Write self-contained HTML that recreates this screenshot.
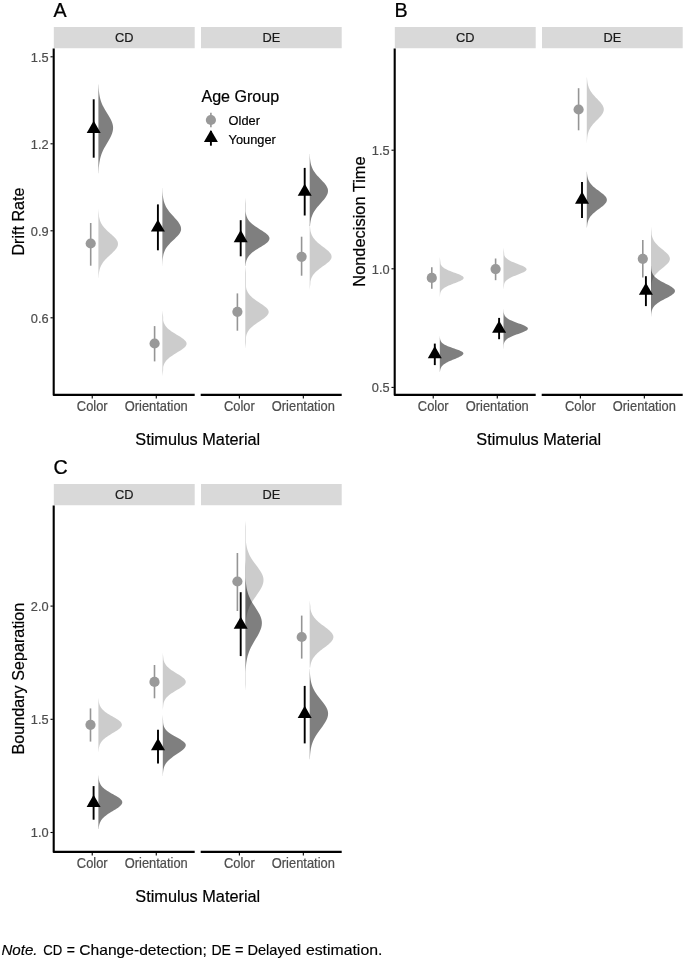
<!DOCTYPE html>
<html lang="en">
<head>
<meta charset="utf-8">
<title>Figure</title>
<style>
html,body{margin:0;padding:0;background:#fff;}
body{width:685px;height:959px;overflow:hidden;font-family:"Liberation Sans", Arial, sans-serif;}
svg{display:block;}
</style>
</head>
<body>
<svg width="685" height="959" viewBox="0 0 685 959" font-family='"Liberation Sans", Arial, sans-serif'>
<rect width="685" height="959" fill="#fff"/>
<g>
<text transform="translate(53.60 17.30) scale(1 0.985)" font-size="19.7" fill="#000" stroke="#000" stroke-width="0.25">A</text>
<rect x="53.80" y="27.00" width="140.90" height="21.25" fill="#d9d9d9"/>
<text transform="translate(124.25 42.40) scale(1 1.070)" font-size="12.8" fill="#1a1a1a" stroke="#1a1a1a" stroke-width="0.20" text-anchor="middle">CD</text>
<rect x="201.00" y="27.00" width="140.70" height="21.25" fill="#d9d9d9"/>
<text transform="translate(271.35 42.40) scale(1 1.070)" font-size="12.8" fill="#1a1a1a" stroke="#1a1a1a" stroke-width="0.20" text-anchor="middle">DE</text>
<path d="M53.70 48.55 V394.90 H194.70" fill="none" stroke="#000" stroke-width="2.10" stroke-linejoin="round"/>
<line x1="200.70" y1="394.90" x2="341.70" y2="394.90" stroke="#000" stroke-width="2.10"/>
<line x1="50.50" y1="56.80" x2="52.80" y2="56.80" stroke="#000" stroke-width="1.1"/>
<text transform="translate(48.60 61.70) scale(1 1.070)" font-size="12.8" fill="#4d4d4d" stroke="#4d4d4d" stroke-width="0.20" text-anchor="end">1.5</text>
<line x1="50.50" y1="143.80" x2="52.80" y2="143.80" stroke="#000" stroke-width="1.1"/>
<text transform="translate(48.60 148.70) scale(1 1.070)" font-size="12.8" fill="#4d4d4d" stroke="#4d4d4d" stroke-width="0.20" text-anchor="end">1.2</text>
<line x1="50.50" y1="230.80" x2="52.80" y2="230.80" stroke="#000" stroke-width="1.1"/>
<text transform="translate(48.60 235.70) scale(1 1.070)" font-size="12.8" fill="#4d4d4d" stroke="#4d4d4d" stroke-width="0.20" text-anchor="end">0.9</text>
<line x1="50.50" y1="317.80" x2="52.80" y2="317.80" stroke="#000" stroke-width="1.1"/>
<text transform="translate(48.60 322.70) scale(1 1.070)" font-size="12.8" fill="#4d4d4d" stroke="#4d4d4d" stroke-width="0.20" text-anchor="end">0.6</text>
<line x1="92.23" y1="395.90" x2="92.23" y2="398.50" stroke="#000" stroke-width="1.1"/>
<text transform="translate(92.23 410.70) scale(1 1.070)" font-size="12.9" fill="#4d4d4d" stroke="#4d4d4d" stroke-width="0.20" text-anchor="middle">Color</text>
<line x1="156.27" y1="395.90" x2="156.27" y2="398.50" stroke="#000" stroke-width="1.1"/>
<text transform="translate(156.27 410.70) scale(1 1.070)" font-size="12.9" fill="#4d4d4d" stroke="#4d4d4d" stroke-width="0.20" text-anchor="middle">Orientation</text>
<line x1="239.37" y1="395.90" x2="239.37" y2="398.50" stroke="#000" stroke-width="1.1"/>
<text transform="translate(239.37 410.70) scale(1 1.070)" font-size="12.9" fill="#4d4d4d" stroke="#4d4d4d" stroke-width="0.20" text-anchor="middle">Color</text>
<line x1="303.33" y1="395.90" x2="303.33" y2="398.50" stroke="#000" stroke-width="1.1"/>
<text transform="translate(303.33 410.70) scale(1 1.070)" font-size="12.9" fill="#4d4d4d" stroke="#4d4d4d" stroke-width="0.20" text-anchor="middle">Orientation</text>
<text transform="translate(197.75 445.10) scale(1 1.040)" font-size="16.3" fill="#000" stroke="#000" stroke-width="0.20" text-anchor="middle">Stimulus Material</text>
<text transform="translate(24.40 221.57) rotate(-90) scale(1 1.040)" font-size="16.1" fill="#000" stroke="#000" stroke-width="0.20" text-anchor="middle">Drift Rate</text>
<path d="M98.40 209.50 L98.49 209.50 L98.52 210.64 L98.62 211.78 L98.73 212.91 L98.85 214.05 L98.96 215.19 L99.00 216.33 L99.20 217.47 L99.45 218.61 L99.76 219.75 L100.13 220.88 L100.59 222.02 L101.13 223.16 L101.77 224.30 L102.52 225.44 L103.36 226.57 L104.31 227.71 L105.35 228.85 L106.48 229.99 L107.69 231.13 L108.95 232.27 L110.24 233.41 L111.53 234.54 L112.79 235.68 L113.98 236.82 L115.07 237.96 L116.04 239.10 L116.83 240.24 L117.44 241.37 L117.83 242.51 L117.99 243.65 L117.94 244.79 L117.66 245.93 L117.19 247.06 L116.53 248.20 L115.70 249.34 L114.74 250.48 L113.65 251.62 L112.49 252.76 L111.27 253.90 L110.03 255.03 L108.80 256.17 L107.60 257.31 L106.44 258.45 L105.36 259.59 L104.35 260.73 L103.44 261.86 L102.62 263.00 L101.90 264.14 L101.26 265.28 L100.72 266.42 L100.26 267.56 L99.87 268.69 L99.56 269.83 L99.30 270.97 L99.09 272.11 L98.92 273.25 L98.79 274.38 L98.69 275.52 L98.61 276.66 L98.56 277.80 L98.40 277.80 Z" fill="rgba(153,153,153,0.5)"/>
<path d="M162.40 310.70 L162.42 310.70 L162.53 311.79 L162.66 312.88 L162.80 313.97 L162.93 315.06 L163.06 316.15 L163.13 317.24 L163.13 318.33 L163.13 319.42 L163.15 320.51 L163.43 321.60 L163.80 322.69 L164.27 323.78 L164.85 324.87 L165.57 325.96 L166.44 327.05 L167.47 328.14 L168.66 329.23 L170.02 330.32 L171.53 331.41 L173.17 332.50 L174.91 333.59 L176.71 334.68 L178.52 335.77 L180.29 336.86 L181.95 337.95 L183.43 339.04 L184.69 340.13 L185.66 341.22 L186.30 342.31 L186.59 343.40 L186.50 344.49 L186.06 345.58 L185.27 346.67 L184.18 347.76 L182.83 348.85 L181.27 349.94 L179.57 351.03 L177.79 352.12 L175.99 353.21 L174.21 354.30 L172.51 355.39 L170.93 356.48 L169.49 357.57 L168.20 358.66 L167.07 359.75 L166.11 360.84 L165.30 361.93 L164.63 363.02 L164.09 364.11 L163.67 365.20 L163.33 366.29 L163.13 367.38 L163.13 368.47 L163.13 369.56 L163.06 370.65 L162.93 371.74 L162.80 372.83 L162.66 373.92 L162.53 375.01 L162.43 376.10 L162.40 376.10 Z" fill="rgba(153,153,153,0.5)"/>
<path d="M245.30 266.50 L245.30 266.50 L245.46 267.87 L245.62 269.23 L245.78 270.60 L245.94 271.97 L246.00 273.33 L246.00 274.70 L246.00 276.07 L246.00 277.43 L246.00 278.80 L246.00 280.17 L246.00 281.53 L246.00 282.90 L246.00 284.27 L246.00 285.63 L246.00 287.00 L246.23 288.37 L246.63 289.73 L247.17 291.10 L247.88 292.47 L248.77 293.83 L249.88 295.20 L251.20 296.57 L252.75 297.93 L254.51 299.30 L256.44 300.67 L258.48 302.03 L260.56 303.40 L262.59 304.77 L264.48 306.13 L266.11 307.50 L267.41 308.87 L268.28 310.23 L268.68 311.60 L268.58 312.97 L267.98 314.33 L266.94 315.70 L265.50 317.07 L263.77 318.43 L261.82 319.80 L259.77 321.17 L257.71 322.53 L255.71 323.90 L253.85 325.27 L252.18 326.63 L250.71 328.00 L249.47 329.37 L248.44 330.73 L247.62 332.10 L246.98 333.47 L246.49 334.83 L246.12 336.20 L246.00 337.57 L246.00 338.93 L246.00 340.30 L246.00 341.67 L245.94 343.03 L245.78 344.40 L245.62 345.77 L245.46 347.13 L245.31 348.50 L245.30 348.50 Z" fill="rgba(153,153,153,0.5)"/>
<path d="M309.70 224.10 L309.81 224.10 L309.86 225.19 L309.94 226.28 L310.06 227.37 L310.18 228.46 L310.30 229.55 L310.44 230.64 L310.68 231.73 L310.97 232.82 L311.34 233.91 L311.78 235.00 L312.32 236.09 L312.96 237.18 L313.70 238.27 L314.56 239.36 L315.53 240.45 L316.62 241.54 L317.81 242.63 L319.09 243.72 L320.45 244.81 L321.86 245.90 L323.30 246.99 L324.73 248.08 L326.12 249.17 L327.42 250.26 L328.61 251.35 L329.63 252.44 L330.47 253.53 L331.09 254.62 L331.47 255.71 L331.60 256.80 L331.45 257.89 L331.02 258.98 L330.33 260.07 L329.39 261.16 L328.24 262.25 L326.94 263.34 L325.51 264.43 L324.01 265.52 L322.48 266.61 L320.96 267.70 L319.49 268.79 L318.10 269.88 L316.82 270.97 L315.65 272.06 L314.60 273.15 L313.69 274.24 L312.90 275.33 L312.24 276.42 L311.68 277.51 L311.23 278.60 L310.87 279.69 L310.58 280.78 L310.36 281.87 L310.36 282.96 L310.30 284.05 L310.18 285.14 L310.06 286.23 L309.94 287.32 L309.82 288.41 L309.76 289.50 L309.70 289.50 Z" fill="rgba(153,153,153,0.5)"/>
<path d="M98.40 84.40 L98.54 84.40 L98.59 85.88 L98.66 87.36 L98.75 88.85 L98.86 90.33 L99.01 91.81 L99.18 93.29 L99.40 94.77 L99.67 96.25 L99.99 97.74 L100.37 99.22 L100.81 100.70 L101.32 102.18 L101.90 103.66 L102.55 105.14 L103.27 106.62 L104.06 108.11 L104.90 109.59 L105.78 111.07 L106.69 112.55 L107.62 114.03 L108.54 115.52 L109.43 117.00 L110.27 118.48 L111.04 119.96 L111.71 121.44 L112.26 122.92 L112.69 124.41 L112.97 125.89 L113.09 127.37 L113.06 128.85 L112.89 130.33 L112.58 131.81 L112.14 133.30 L111.58 134.78 L110.93 136.26 L110.18 137.74 L109.38 139.22 L108.53 140.70 L107.65 142.19 L106.77 143.67 L105.90 145.15 L105.05 146.63 L104.24 148.11 L103.48 149.59 L102.78 151.08 L102.13 152.56 L101.55 154.04 L101.03 155.52 L100.58 157.00 L100.19 158.48 L99.85 159.97 L99.57 161.45 L99.33 162.93 L99.13 164.41 L98.97 165.89 L98.84 167.37 L98.74 168.86 L98.66 170.34 L98.59 171.82 L98.54 173.30 L98.40 173.30 Z" fill="rgba(0,0,0,0.5)"/>
<path d="M162.40 187.80 L162.47 187.80 L162.50 189.11 L162.54 190.42 L162.59 191.73 L162.66 193.04 L162.76 194.35 L162.88 195.66 L163.03 196.97 L163.23 198.28 L163.48 199.59 L163.78 200.90 L164.15 202.21 L164.59 203.52 L165.11 204.83 L165.72 206.14 L166.42 207.45 L167.22 208.76 L168.11 210.07 L169.08 211.38 L170.13 212.69 L171.26 214.00 L172.43 215.31 L173.62 216.62 L174.82 217.93 L176.00 219.24 L177.12 220.55 L178.15 221.86 L179.06 223.17 L179.84 224.48 L180.44 225.79 L180.86 227.10 L181.07 228.41 L181.07 229.72 L180.79 231.03 L180.25 232.34 L179.45 233.65 L178.45 234.96 L177.28 236.27 L175.98 237.58 L174.61 238.89 L173.21 240.20 L171.82 241.51 L170.49 242.82 L169.24 244.13 L168.10 245.44 L167.08 246.75 L166.18 248.06 L165.40 249.37 L164.75 250.68 L164.22 251.99 L163.78 253.30 L163.43 254.61 L163.16 255.92 L162.95 257.23 L162.80 258.54 L162.68 259.85 L162.60 261.16 L162.55 262.47 L162.50 263.78 L162.46 265.09 L162.44 266.40 L162.40 266.40 Z" fill="rgba(0,0,0,0.5)"/>
<path d="M245.30 197.80 L245.30 197.80 L245.36 198.94 L245.41 200.07 L245.47 201.21 L245.52 202.35 L245.58 203.48 L245.59 204.62 L245.59 205.76 L245.59 206.89 L245.59 208.03 L245.59 209.17 L245.59 210.30 L245.61 211.44 L245.74 212.58 L245.92 213.71 L246.16 214.85 L246.47 215.99 L246.88 217.12 L247.40 218.26 L248.04 219.40 L248.82 220.53 L249.76 221.67 L250.86 222.81 L252.13 223.94 L253.55 225.08 L255.13 226.22 L256.82 227.35 L258.60 228.49 L260.42 229.63 L262.23 230.76 L263.96 231.90 L265.55 233.04 L266.94 234.17 L268.07 235.31 L268.90 236.45 L269.38 237.58 L269.49 238.72 L269.22 239.86 L268.57 240.99 L267.57 242.13 L266.27 243.27 L264.72 244.40 L263.00 245.54 L261.17 246.68 L259.30 247.81 L257.45 248.95 L255.67 250.09 L254.01 251.22 L252.50 252.36 L251.15 253.50 L249.98 254.63 L248.98 255.77 L248.15 256.91 L247.47 258.04 L246.93 259.18 L246.50 260.32 L246.17 261.45 L245.92 262.59 L245.74 263.73 L245.60 264.86 L245.50 266.00 L245.30 266.00 Z" fill="rgba(0,0,0,0.5)"/>
<path d="M309.70 154.10 L309.81 154.10 L309.85 155.30 L309.91 156.50 L309.98 157.69 L310.08 158.89 L310.20 160.09 L310.36 161.29 L310.56 162.49 L310.81 163.69 L311.11 164.88 L311.48 166.08 L311.92 167.28 L312.44 168.48 L313.04 169.68 L313.73 170.88 L314.51 172.07 L315.37 173.27 L316.32 174.47 L317.34 175.67 L318.43 176.87 L319.56 178.07 L320.72 179.26 L321.88 180.46 L323.01 181.66 L324.09 182.86 L325.09 184.06 L325.98 185.26 L326.73 186.45 L327.32 187.65 L327.74 188.85 L327.96 190.05 L327.99 191.25 L327.84 192.45 L327.52 193.64 L327.05 194.84 L326.42 196.04 L325.67 197.24 L324.81 198.44 L323.87 199.64 L322.85 200.84 L321.80 202.03 L320.73 203.23 L319.65 204.43 L318.60 205.63 L317.58 206.83 L316.62 208.03 L315.71 209.22 L314.88 210.42 L314.12 211.62 L313.43 212.82 L312.83 214.02 L312.29 215.22 L311.83 216.41 L311.43 217.61 L311.10 218.81 L310.82 220.01 L310.58 221.21 L310.39 222.41 L310.24 223.60 L310.11 224.80 L310.02 226.00 L309.70 226.00 Z" fill="rgba(0,0,0,0.5)"/>
<line x1="90.70" y1="223.00" x2="90.70" y2="265.70" stroke="#959595" stroke-width="1.6"/>
<circle cx="90.70" cy="243.50" r="5.10" fill="#999"/>
<line x1="154.60" y1="326.10" x2="154.60" y2="361.40" stroke="#959595" stroke-width="1.6"/>
<circle cx="154.60" cy="343.50" r="5.10" fill="#999"/>
<line x1="237.40" y1="293.40" x2="237.40" y2="330.70" stroke="#959595" stroke-width="1.6"/>
<circle cx="237.40" cy="311.80" r="5.10" fill="#999"/>
<line x1="301.60" y1="236.70" x2="301.60" y2="275.70" stroke="#959595" stroke-width="1.6"/>
<circle cx="301.60" cy="256.80" r="5.10" fill="#999"/>
<line x1="93.70" y1="99.30" x2="93.70" y2="157.70" stroke="#000" stroke-width="1.9"/>
<polygon points="93.70,120.75 100.70,132.90 86.70,132.90" fill="#000"/>
<line x1="157.90" y1="204.40" x2="157.90" y2="250.30" stroke="#000" stroke-width="1.9"/>
<polygon points="157.90,219.45 164.90,231.60 150.90,231.60" fill="#000"/>
<line x1="240.70" y1="220.20" x2="240.70" y2="256.30" stroke="#000" stroke-width="1.9"/>
<polygon points="240.70,230.05 247.70,242.20 233.70,242.20" fill="#000"/>
<line x1="304.70" y1="167.90" x2="304.70" y2="215.50" stroke="#000" stroke-width="1.9"/>
<polygon points="304.70,183.65 311.70,195.80 297.70,195.80" fill="#000"/>
<text transform="translate(201.40 101.60) scale(1 1.040)" font-size="16.1" fill="#000" stroke="#000" stroke-width="0.20">Age Group</text>
<line x1="210.9" y1="112.7" x2="210.9" y2="127.2" stroke="#959595" stroke-width="1.6"/>
<circle cx="210.9" cy="120" r="5.1" fill="#999"/>
<text transform="translate(228.60 124.70) scale(1 1.070)" font-size="12.8" fill="#000" stroke="#000" stroke-width="0.20">Older</text>
<line x1="210.9" y1="131" x2="210.9" y2="145.7" stroke="#000" stroke-width="1.9"/>
<polygon points="210.9,130.0 217.9,142.1 203.9,142.1" fill="#000"/>
<text transform="translate(228.60 143.50) scale(1 1.070)" font-size="12.8" fill="#000" stroke="#000" stroke-width="0.20">Younger</text>
</g>
<g>
<text transform="translate(394.60 17.30) scale(1 0.985)" font-size="19.7" fill="#000" stroke="#000" stroke-width="0.25">B</text>
<rect x="394.80" y="27.00" width="140.90" height="21.25" fill="#d9d9d9"/>
<text transform="translate(465.25 42.40) scale(1 1.070)" font-size="12.8" fill="#1a1a1a" stroke="#1a1a1a" stroke-width="0.20" text-anchor="middle">CD</text>
<rect x="542.00" y="27.00" width="140.70" height="21.25" fill="#d9d9d9"/>
<text transform="translate(612.35 42.40) scale(1 1.070)" font-size="12.8" fill="#1a1a1a" stroke="#1a1a1a" stroke-width="0.20" text-anchor="middle">DE</text>
<path d="M394.70 48.55 V394.90 H535.70" fill="none" stroke="#000" stroke-width="2.10" stroke-linejoin="round"/>
<line x1="541.70" y1="394.90" x2="682.70" y2="394.90" stroke="#000" stroke-width="2.10"/>
<line x1="391.50" y1="150.20" x2="393.80" y2="150.20" stroke="#000" stroke-width="1.1"/>
<text transform="translate(389.60 155.10) scale(1 1.070)" font-size="12.8" fill="#4d4d4d" stroke="#4d4d4d" stroke-width="0.20" text-anchor="end">1.5</text>
<line x1="391.50" y1="268.80" x2="393.80" y2="268.80" stroke="#000" stroke-width="1.1"/>
<text transform="translate(389.60 273.70) scale(1 1.070)" font-size="12.8" fill="#4d4d4d" stroke="#4d4d4d" stroke-width="0.20" text-anchor="end">1.0</text>
<line x1="391.50" y1="387.40" x2="393.80" y2="387.40" stroke="#000" stroke-width="1.1"/>
<text transform="translate(389.60 392.30) scale(1 1.070)" font-size="12.8" fill="#4d4d4d" stroke="#4d4d4d" stroke-width="0.20" text-anchor="end">0.5</text>
<line x1="433.23" y1="395.90" x2="433.23" y2="398.50" stroke="#000" stroke-width="1.1"/>
<text transform="translate(433.23 410.70) scale(1 1.070)" font-size="12.9" fill="#4d4d4d" stroke="#4d4d4d" stroke-width="0.20" text-anchor="middle">Color</text>
<line x1="497.27" y1="395.90" x2="497.27" y2="398.50" stroke="#000" stroke-width="1.1"/>
<text transform="translate(497.27 410.70) scale(1 1.070)" font-size="12.9" fill="#4d4d4d" stroke="#4d4d4d" stroke-width="0.20" text-anchor="middle">Orientation</text>
<line x1="580.37" y1="395.90" x2="580.37" y2="398.50" stroke="#000" stroke-width="1.1"/>
<text transform="translate(580.37 410.70) scale(1 1.070)" font-size="12.9" fill="#4d4d4d" stroke="#4d4d4d" stroke-width="0.20" text-anchor="middle">Color</text>
<line x1="644.33" y1="395.90" x2="644.33" y2="398.50" stroke="#000" stroke-width="1.1"/>
<text transform="translate(644.33 410.70) scale(1 1.070)" font-size="12.9" fill="#4d4d4d" stroke="#4d4d4d" stroke-width="0.20" text-anchor="middle">Orientation</text>
<text transform="translate(538.75 445.10) scale(1 1.040)" font-size="16.3" fill="#000" stroke="#000" stroke-width="0.20" text-anchor="middle">Stimulus Material</text>
<text transform="translate(365.40 221.57) rotate(-90) scale(1 1.040)" font-size="16.4" fill="#000" stroke="#000" stroke-width="0.20" text-anchor="middle">Nondecision Time</text>
<path d="M439.80 257.20 L439.81 257.20 L439.88 257.86 L439.96 258.52 L440.04 259.18 L440.12 259.84 L440.19 260.50 L440.27 261.16 L440.35 261.82 L440.43 262.48 L440.51 263.14 L440.52 263.80 L440.76 264.46 L441.11 265.12 L441.55 265.78 L442.11 266.44 L442.80 267.10 L443.63 267.76 L444.63 268.42 L445.78 269.08 L447.11 269.74 L448.58 270.40 L450.19 271.06 L451.91 271.72 L453.69 272.38 L455.50 273.04 L457.26 273.70 L458.92 274.36 L460.42 275.02 L461.69 275.68 L462.69 276.34 L463.36 277.00 L463.68 277.66 L463.63 278.32 L463.24 278.98 L462.51 279.64 L461.49 280.30 L460.21 280.96 L458.73 281.62 L457.10 282.28 L455.38 282.94 L453.63 283.60 L451.90 284.26 L450.23 284.92 L448.66 285.58 L447.21 286.24 L445.91 286.90 L444.77 287.56 L443.78 288.22 L442.94 288.88 L442.24 289.54 L441.67 290.20 L441.21 290.86 L440.85 291.52 L440.57 292.18 L440.36 292.84 L440.20 293.50 L440.12 294.16 L440.04 294.82 L439.96 295.48 L439.89 296.14 L439.86 296.80 L439.80 296.80 Z" fill="rgba(153,153,153,0.5)"/>
<path d="M503.50 247.60 L503.51 247.60 L503.58 248.30 L503.66 249.00 L503.74 249.70 L503.82 250.41 L503.91 251.11 L503.99 251.81 L504.07 252.51 L504.15 253.21 L504.19 253.91 L504.19 254.62 L504.31 255.32 L504.62 256.02 L505.03 256.72 L505.56 257.42 L506.21 258.12 L507.02 258.83 L507.99 259.53 L509.14 260.23 L510.45 260.93 L511.93 261.63 L513.55 262.33 L515.29 263.04 L517.09 263.74 L518.91 264.44 L520.67 265.14 L522.32 265.84 L523.78 266.55 L524.99 267.25 L525.89 267.95 L526.43 268.65 L526.60 269.35 L526.38 270.05 L525.79 270.75 L524.86 271.46 L523.63 272.16 L522.16 272.86 L520.52 273.56 L518.76 274.26 L516.96 274.96 L515.18 275.67 L513.46 276.37 L511.86 277.07 L510.40 277.77 L509.10 278.47 L507.97 279.18 L507.01 279.88 L506.21 280.58 L505.56 281.28 L505.04 281.98 L504.63 282.68 L504.32 283.38 L504.15 284.09 L504.07 284.79 L503.99 285.49 L503.91 286.19 L503.82 286.89 L503.74 287.59 L503.66 288.30 L503.58 289.00 L503.52 289.70 L503.50 289.70 Z" fill="rgba(153,153,153,0.5)"/>
<path d="M586.80 77.60 L586.99 77.60 L587.06 78.69 L587.15 79.77 L587.26 80.86 L587.40 81.95 L587.58 83.03 L587.79 84.12 L588.06 85.21 L588.38 86.29 L588.77 87.38 L589.22 88.47 L589.74 89.55 L590.34 90.64 L591.02 91.73 L591.78 92.81 L592.61 93.90 L593.52 94.99 L594.48 96.07 L595.49 97.16 L596.53 98.25 L597.58 99.33 L598.62 100.42 L599.63 101.51 L600.58 102.59 L601.44 103.68 L602.20 104.77 L602.83 105.85 L603.32 106.94 L603.64 108.03 L603.79 109.11 L603.76 110.20 L603.55 111.29 L603.16 112.37 L602.61 113.46 L601.91 114.55 L601.09 115.63 L600.16 116.72 L599.16 117.81 L598.11 118.89 L597.03 119.98 L595.96 121.07 L594.91 122.15 L593.90 123.24 L592.95 124.33 L592.07 125.41 L591.27 126.50 L590.55 127.59 L589.91 128.67 L589.35 129.76 L588.87 130.85 L588.46 131.93 L588.12 133.02 L587.83 134.11 L587.60 135.19 L587.42 136.28 L587.27 137.37 L587.17 138.45 L587.08 139.54 L586.99 140.63 L586.94 141.71 L586.90 142.80 L586.80 142.80 Z" fill="rgba(153,153,153,0.5)"/>
<path d="M651.00 227.00 L651.06 227.00 L651.10 228.05 L651.20 229.10 L651.30 230.15 L651.40 231.20 L651.50 232.25 L651.57 233.30 L651.62 234.35 L651.82 235.40 L652.09 236.45 L652.41 237.50 L652.81 238.55 L653.30 239.60 L653.87 240.65 L654.55 241.70 L655.33 242.75 L656.22 243.80 L657.21 244.85 L658.30 245.90 L659.47 246.95 L660.70 248.00 L661.97 249.05 L663.26 250.10 L664.52 251.15 L665.73 252.20 L666.85 253.25 L667.83 254.30 L668.66 255.35 L669.29 256.40 L669.70 257.45 L669.89 258.50 L669.84 259.55 L669.55 260.60 L669.03 261.65 L668.31 262.70 L667.40 263.75 L666.35 264.80 L665.18 265.85 L663.93 266.90 L662.65 267.95 L661.36 269.00 L660.09 270.05 L658.88 271.10 L657.75 272.15 L656.70 273.20 L655.76 274.25 L654.92 275.30 L654.19 276.35 L653.56 277.40 L653.03 278.45 L652.59 279.50 L652.23 280.55 L651.94 281.60 L651.71 282.65 L651.57 283.70 L651.50 284.75 L651.40 285.80 L651.30 286.85 L651.20 287.90 L651.10 288.95 L651.07 290.00 L651.00 290.00 Z" fill="rgba(153,153,153,0.5)"/>
<path d="M439.80 336.10 L439.85 336.10 L439.87 336.69 L439.91 337.29 L439.96 337.88 L440.03 338.47 L440.13 339.07 L440.26 339.66 L440.45 340.25 L440.69 340.85 L441.00 341.44 L441.40 342.03 L441.90 342.63 L442.53 343.22 L443.28 343.81 L444.18 344.41 L445.23 345.00 L446.43 345.59 L447.79 346.19 L449.27 346.78 L450.88 347.37 L452.56 347.97 L454.29 348.56 L456.01 349.15 L457.67 349.75 L459.22 350.34 L460.59 350.93 L461.74 351.53 L462.61 352.12 L463.17 352.71 L463.40 353.31 L463.31 353.90 L462.99 354.49 L462.44 355.09 L461.67 355.68 L460.72 356.27 L459.60 356.87 L458.35 357.46 L457.00 358.05 L455.59 358.65 L454.14 359.24 L452.69 359.83 L451.27 360.43 L449.90 361.02 L448.61 361.61 L447.40 362.21 L446.29 362.80 L445.29 363.39 L444.39 363.99 L443.60 364.58 L442.91 365.17 L442.33 365.77 L441.83 366.36 L441.41 366.95 L441.07 367.55 L440.79 368.14 L440.56 368.73 L440.38 369.33 L440.24 369.92 L440.13 370.51 L440.04 371.11 L439.98 371.70 L439.80 371.70 Z" fill="rgba(0,0,0,0.5)"/>
<path d="M503.50 308.00 L503.51 308.00 L503.53 308.70 L503.57 309.40 L503.60 310.10 L503.64 310.80 L503.67 311.50 L503.72 312.20 L503.83 312.90 L503.98 313.60 L504.19 314.30 L504.46 315.00 L504.83 315.70 L505.31 316.40 L505.92 317.10 L506.68 317.80 L507.61 318.50 L508.71 319.20 L510.00 319.90 L511.48 320.60 L513.12 321.30 L514.90 322.00 L516.78 322.70 L518.71 323.40 L520.63 324.10 L522.46 324.80 L524.13 325.50 L525.56 326.20 L526.70 326.90 L527.48 327.60 L527.86 328.30 L527.83 329.00 L527.38 329.70 L526.53 330.40 L525.33 331.10 L523.83 331.80 L522.11 332.50 L520.24 333.20 L518.30 333.90 L516.36 334.60 L514.47 335.30 L512.71 336.00 L511.09 336.70 L509.65 337.40 L508.39 338.10 L507.33 338.80 L506.44 339.50 L505.72 340.20 L505.15 340.90 L504.70 341.60 L504.36 342.30 L504.11 343.00 L503.92 343.70 L503.79 344.40 L503.74 345.10 L503.70 345.80 L503.67 346.50 L503.64 347.20 L503.60 347.90 L503.57 348.60 L503.53 349.30 L503.51 350.00 L503.50 350.00 Z" fill="rgba(0,0,0,0.5)"/>
<path d="M586.80 171.80 L586.94 171.80 L586.99 172.73 L587.06 173.66 L587.15 174.59 L587.27 175.51 L587.42 176.44 L587.62 177.37 L587.86 178.30 L588.15 179.23 L588.52 180.16 L588.95 181.08 L589.47 182.01 L590.07 182.94 L590.77 183.87 L591.56 184.80 L592.45 185.72 L593.44 186.65 L594.51 187.58 L595.66 188.51 L596.87 189.44 L598.13 190.37 L599.40 191.30 L600.66 192.22 L601.88 193.15 L603.03 194.08 L604.08 195.01 L605.00 195.94 L605.76 196.87 L606.34 197.79 L606.72 198.72 L606.89 199.65 L606.84 200.58 L606.58 201.51 L606.12 202.44 L605.47 203.36 L604.64 204.29 L603.68 205.22 L602.60 206.15 L601.43 207.08 L600.20 208.00 L598.95 208.93 L597.69 209.86 L596.47 210.79 L595.29 211.72 L594.17 212.65 L593.14 213.57 L592.19 214.50 L591.33 215.43 L590.57 216.36 L589.91 217.29 L589.33 218.22 L588.84 219.15 L588.43 220.07 L588.09 221.00 L587.80 221.93 L587.58 222.86 L587.39 223.79 L587.25 224.72 L587.14 225.64 L587.05 226.57 L586.98 227.50 L586.80 227.50 Z" fill="rgba(0,0,0,0.5)"/>
<path d="M651.00 266.00 L651.08 266.00 L651.12 266.84 L651.17 267.68 L651.24 268.52 L651.33 269.37 L651.46 270.21 L651.63 271.05 L651.86 271.89 L652.14 272.73 L652.50 273.57 L652.95 274.42 L653.50 275.26 L654.16 276.10 L654.95 276.94 L655.87 277.78 L656.93 278.62 L658.12 279.47 L659.45 280.31 L660.90 281.15 L662.44 281.99 L664.05 282.83 L665.70 283.68 L667.35 284.52 L668.95 285.36 L670.45 286.20 L671.80 287.04 L672.96 287.88 L673.89 288.73 L674.55 289.57 L674.92 290.41 L674.99 291.25 L674.75 292.09 L674.23 292.93 L673.43 293.77 L672.40 294.62 L671.16 295.46 L669.76 296.30 L668.24 297.14 L666.65 297.98 L665.03 298.82 L663.42 299.67 L661.86 300.51 L660.38 301.35 L659.00 302.19 L657.74 303.03 L656.61 303.88 L655.61 304.72 L654.74 305.56 L654.00 306.40 L653.37 307.24 L652.86 308.08 L652.43 308.93 L652.09 309.77 L651.82 310.61 L651.61 311.45 L651.45 312.29 L651.33 313.13 L651.23 313.98 L651.17 314.82 L651.12 315.66 L651.08 316.50 L651.00 316.50 Z" fill="rgba(0,0,0,0.5)"/>
<line x1="431.80" y1="267.30" x2="431.80" y2="288.80" stroke="#959595" stroke-width="1.6"/>
<circle cx="431.80" cy="277.90" r="5.10" fill="#999"/>
<line x1="495.60" y1="258.50" x2="495.60" y2="280.20" stroke="#959595" stroke-width="1.6"/>
<circle cx="495.60" cy="269.10" r="5.10" fill="#999"/>
<line x1="578.60" y1="88.20" x2="578.60" y2="130.30" stroke="#959595" stroke-width="1.6"/>
<circle cx="578.60" cy="109.50" r="5.10" fill="#999"/>
<line x1="642.80" y1="240.10" x2="642.80" y2="277.40" stroke="#959595" stroke-width="1.6"/>
<circle cx="642.80" cy="258.80" r="5.10" fill="#999"/>
<line x1="434.80" y1="343.60" x2="434.80" y2="365.10" stroke="#000" stroke-width="1.9"/>
<polygon points="434.80,346.05 441.80,358.20 427.80,358.20" fill="#000"/>
<line x1="499.10" y1="317.90" x2="499.10" y2="339.20" stroke="#000" stroke-width="1.9"/>
<polygon points="499.10,320.55 506.10,332.70 492.10,332.70" fill="#000"/>
<line x1="582.00" y1="182.10" x2="582.00" y2="217.90" stroke="#000" stroke-width="1.9"/>
<polygon points="582.00,191.55 589.00,203.70 575.00,203.70" fill="#000"/>
<line x1="645.90" y1="276.20" x2="645.90" y2="306.10" stroke="#000" stroke-width="1.9"/>
<polygon points="645.90,282.65 652.90,294.80 638.90,294.80" fill="#000"/>
</g>
<g>
<text transform="translate(53.60 474.30) scale(1 0.985)" font-size="19.7" fill="#000" stroke="#000" stroke-width="0.25">C</text>
<rect x="53.80" y="484.00" width="140.90" height="21.25" fill="#d9d9d9"/>
<text transform="translate(124.25 499.40) scale(1 1.070)" font-size="12.8" fill="#1a1a1a" stroke="#1a1a1a" stroke-width="0.20" text-anchor="middle">CD</text>
<rect x="201.00" y="484.00" width="140.70" height="21.25" fill="#d9d9d9"/>
<text transform="translate(271.35 499.40) scale(1 1.070)" font-size="12.8" fill="#1a1a1a" stroke="#1a1a1a" stroke-width="0.20" text-anchor="middle">DE</text>
<path d="M53.70 505.55 V851.90 H194.70" fill="none" stroke="#000" stroke-width="2.10" stroke-linejoin="round"/>
<line x1="200.70" y1="851.90" x2="341.70" y2="851.90" stroke="#000" stroke-width="2.10"/>
<line x1="50.50" y1="606.10" x2="52.80" y2="606.10" stroke="#000" stroke-width="1.1"/>
<text transform="translate(48.60 611.00) scale(1 1.070)" font-size="12.8" fill="#4d4d4d" stroke="#4d4d4d" stroke-width="0.20" text-anchor="end">2.0</text>
<line x1="50.50" y1="719.30" x2="52.80" y2="719.30" stroke="#000" stroke-width="1.1"/>
<text transform="translate(48.60 724.20) scale(1 1.070)" font-size="12.8" fill="#4d4d4d" stroke="#4d4d4d" stroke-width="0.20" text-anchor="end">1.5</text>
<line x1="50.50" y1="832.50" x2="52.80" y2="832.50" stroke="#000" stroke-width="1.1"/>
<text transform="translate(48.60 837.40) scale(1 1.070)" font-size="12.8" fill="#4d4d4d" stroke="#4d4d4d" stroke-width="0.20" text-anchor="end">1.0</text>
<line x1="92.23" y1="852.90" x2="92.23" y2="855.50" stroke="#000" stroke-width="1.1"/>
<text transform="translate(92.23 867.70) scale(1 1.070)" font-size="12.9" fill="#4d4d4d" stroke="#4d4d4d" stroke-width="0.20" text-anchor="middle">Color</text>
<line x1="156.27" y1="852.90" x2="156.27" y2="855.50" stroke="#000" stroke-width="1.1"/>
<text transform="translate(156.27 867.70) scale(1 1.070)" font-size="12.9" fill="#4d4d4d" stroke="#4d4d4d" stroke-width="0.20" text-anchor="middle">Orientation</text>
<line x1="239.37" y1="852.90" x2="239.37" y2="855.50" stroke="#000" stroke-width="1.1"/>
<text transform="translate(239.37 867.70) scale(1 1.070)" font-size="12.9" fill="#4d4d4d" stroke="#4d4d4d" stroke-width="0.20" text-anchor="middle">Color</text>
<line x1="303.33" y1="852.90" x2="303.33" y2="855.50" stroke="#000" stroke-width="1.1"/>
<text transform="translate(303.33 867.70) scale(1 1.070)" font-size="12.9" fill="#4d4d4d" stroke="#4d4d4d" stroke-width="0.20" text-anchor="middle">Orientation</text>
<text transform="translate(197.75 902.10) scale(1 1.040)" font-size="16.3" fill="#000" stroke="#000" stroke-width="0.20" text-anchor="middle">Stimulus Material</text>
<text transform="translate(24.40 678.58) rotate(-90) scale(1 1.040)" font-size="16.15" fill="#000" stroke="#000" stroke-width="0.20" text-anchor="middle">Boundary Separation</text>
<path d="M98.40 698.60 L98.54 698.60 L98.60 699.49 L98.67 700.37 L98.78 701.25 L98.91 702.14 L99.08 703.02 L99.31 703.91 L99.59 704.80 L99.94 705.68 L100.38 706.57 L100.90 707.45 L101.53 708.34 L102.27 709.22 L103.13 710.11 L104.11 710.99 L105.21 711.88 L106.44 712.76 L107.77 713.64 L109.19 714.53 L110.68 715.42 L112.22 716.30 L113.76 717.19 L115.28 718.07 L116.73 718.96 L118.07 719.84 L119.26 720.73 L120.27 721.61 L121.06 722.50 L121.59 723.38 L121.87 724.26 L121.87 725.15 L121.61 726.04 L121.10 726.92 L120.37 727.81 L119.42 728.69 L118.30 729.58 L117.03 730.46 L115.65 731.35 L114.20 732.23 L112.71 733.12 L111.22 734.00 L109.77 734.88 L108.36 735.77 L107.04 736.66 L105.81 737.54 L104.68 738.43 L103.67 739.31 L102.77 740.20 L101.99 741.08 L101.31 741.97 L100.74 742.85 L100.26 743.74 L99.86 744.62 L99.53 745.50 L99.27 746.39 L99.06 747.28 L98.90 748.16 L98.77 749.05 L98.67 749.93 L98.60 750.82 L98.54 751.70 L98.40 751.70 Z" fill="rgba(153,153,153,0.5)"/>
<path d="M162.80 653.30 L162.87 653.30 L162.91 654.24 L163.02 655.17 L163.12 656.11 L163.23 657.05 L163.34 657.98 L163.45 658.92 L163.57 659.86 L163.82 660.79 L164.13 661.73 L164.52 662.67 L165.01 663.60 L165.59 664.54 L166.28 665.48 L167.09 666.41 L168.02 667.35 L169.08 668.29 L170.26 669.22 L171.56 670.16 L172.96 671.10 L174.43 672.03 L175.96 672.97 L177.50 673.91 L179.03 674.84 L180.49 675.78 L181.86 676.72 L183.07 677.65 L184.10 678.59 L184.91 679.53 L185.47 680.46 L185.76 681.40 L185.77 682.34 L185.48 683.27 L184.91 684.21 L184.07 685.15 L182.99 686.08 L181.73 687.02 L180.31 687.96 L178.79 688.89 L177.21 689.83 L175.62 690.77 L174.06 691.70 L172.55 692.64 L171.14 693.58 L169.85 694.51 L168.67 695.45 L167.63 696.39 L166.72 697.32 L165.94 698.26 L165.29 699.20 L164.74 700.13 L164.30 701.07 L163.94 702.01 L163.65 702.94 L163.45 703.88 L163.34 704.82 L163.23 705.75 L163.12 706.69 L163.02 707.63 L162.92 708.56 L162.88 709.50 L162.80 709.50 Z" fill="rgba(153,153,153,0.5)"/>
<path d="M245.40 521.00 L245.40 521.00 L245.56 522.78 L245.72 524.57 L245.88 526.35 L245.94 528.13 L245.94 529.92 L245.94 531.70 L245.94 533.48 L245.94 535.27 L245.94 537.05 L245.94 538.83 L245.94 540.62 L246.03 542.40 L246.26 544.18 L246.55 545.97 L246.93 547.75 L247.39 549.53 L247.96 551.32 L248.64 553.10 L249.44 554.88 L250.36 556.67 L251.40 558.45 L252.55 560.23 L253.79 562.02 L255.10 563.80 L256.44 565.58 L257.78 567.37 L259.08 569.15 L260.29 570.93 L261.35 572.72 L262.24 574.50 L262.92 576.28 L263.34 578.07 L263.50 579.85 L263.40 581.63 L263.07 583.42 L262.51 585.20 L261.75 586.98 L260.82 588.77 L259.76 590.55 L258.59 592.33 L257.36 594.12 L256.09 595.90 L254.84 597.68 L253.63 599.47 L252.47 601.25 L251.40 603.03 L250.42 604.82 L249.55 606.60 L248.78 608.38 L248.12 610.17 L247.56 611.95 L247.09 613.73 L246.71 615.52 L246.40 617.30 L246.15 619.08 L245.96 620.87 L245.88 622.65 L245.72 624.43 L245.61 626.22 L245.55 628.00 L245.40 628.00 Z" fill="rgba(153,153,153,0.5)"/>
<path d="M309.70 600.80 L309.78 600.80 L309.83 601.91 L309.96 603.02 L310.10 604.13 L310.23 605.25 L310.36 606.36 L310.41 607.47 L310.41 608.58 L310.61 609.69 L310.88 610.80 L311.22 611.92 L311.63 613.03 L312.12 614.14 L312.70 615.25 L313.39 616.36 L314.18 617.47 L315.09 618.59 L316.11 619.70 L317.24 620.81 L318.48 621.92 L319.81 623.03 L321.22 624.14 L322.68 625.26 L324.17 626.37 L325.65 627.48 L327.10 628.59 L328.48 629.70 L329.75 630.81 L330.88 631.93 L331.83 633.04 L332.57 634.15 L333.09 635.26 L333.36 636.37 L333.38 637.49 L333.14 638.60 L332.67 639.71 L331.96 640.82 L331.05 641.93 L329.97 643.04 L328.73 644.15 L327.38 645.27 L325.96 646.38 L324.49 647.49 L323.01 648.60 L321.55 649.71 L320.15 650.82 L318.81 651.94 L317.56 653.05 L316.41 654.16 L315.37 655.27 L314.43 656.38 L313.62 657.50 L312.90 658.61 L312.29 659.72 L311.78 660.83 L311.35 661.94 L310.99 663.05 L310.70 664.16 L310.47 665.28 L310.28 666.39 L310.14 667.50 L309.70 667.50 Z" fill="rgba(153,153,153,0.5)"/>
<path d="M98.40 775.60 L98.50 775.60 L98.55 776.49 L98.61 777.38 L98.69 778.27 L98.80 779.16 L98.94 780.05 L99.13 780.94 L99.37 781.83 L99.68 782.72 L100.06 783.61 L100.53 784.50 L101.10 785.39 L101.78 786.28 L102.58 787.17 L103.51 788.06 L104.57 788.95 L105.75 789.84 L107.06 790.73 L108.48 791.62 L109.98 792.51 L111.55 793.40 L113.15 794.29 L114.74 795.18 L116.28 796.07 L117.74 796.96 L119.05 797.85 L120.19 798.74 L121.11 799.63 L121.79 800.52 L122.19 801.41 L122.30 802.30 L122.15 803.19 L121.75 804.08 L121.13 804.97 L120.30 805.86 L119.28 806.75 L118.10 807.64 L116.80 808.53 L115.40 809.42 L113.95 810.31 L112.48 811.20 L111.02 812.09 L109.59 812.98 L108.22 813.87 L106.93 814.76 L105.73 815.65 L104.64 816.54 L103.65 817.43 L102.78 818.32 L102.01 819.21 L101.35 820.10 L100.78 820.99 L100.31 821.88 L99.91 822.77 L99.58 823.66 L99.32 824.55 L99.10 825.44 L98.93 826.33 L98.80 827.22 L98.70 828.11 L98.62 829.00 L98.40 829.00 Z" fill="rgba(0,0,0,0.5)"/>
<path d="M162.80 715.00 L162.81 715.00 L162.85 716.01 L162.89 717.03 L162.94 718.04 L162.99 719.06 L163.03 720.08 L163.08 721.09 L163.08 722.11 L163.16 723.12 L163.33 724.13 L163.56 725.15 L163.87 726.16 L164.27 727.18 L164.80 728.20 L165.46 729.21 L166.28 730.23 L167.27 731.24 L168.44 732.25 L169.79 733.27 L171.31 734.28 L172.99 735.30 L174.77 736.31 L176.62 737.33 L178.48 738.35 L180.26 739.36 L181.91 740.38 L183.35 741.39 L184.50 742.40 L185.31 743.42 L185.74 744.43 L185.77 745.45 L185.51 746.47 L184.98 747.48 L184.20 748.50 L183.20 749.51 L182.00 750.52 L180.66 751.54 L179.22 752.55 L177.70 753.57 L176.17 754.59 L174.64 755.60 L173.17 756.62 L171.76 757.63 L170.46 758.64 L169.26 759.66 L168.19 760.67 L167.24 761.69 L166.41 762.70 L165.70 763.72 L165.10 764.74 L164.61 765.75 L164.20 766.76 L163.87 767.78 L163.61 768.79 L163.41 769.81 L163.25 770.82 L163.13 771.84 L163.04 772.86 L162.97 773.87 L162.92 774.88 L162.88 775.90 L162.80 775.90 Z" fill="rgba(0,0,0,0.5)"/>
<path d="M245.40 560.00 L245.40 560.00 L245.47 562.18 L245.54 564.37 L245.60 566.55 L245.60 568.73 L245.60 570.92 L245.60 573.10 L245.60 575.28 L245.61 577.47 L245.71 579.65 L245.86 581.83 L246.07 584.02 L246.35 586.20 L246.72 588.38 L247.19 590.57 L247.80 592.75 L248.54 594.93 L249.43 597.12 L250.46 599.30 L251.63 601.48 L252.93 603.67 L254.30 605.85 L255.72 608.03 L257.13 610.22 L258.46 612.40 L259.65 614.58 L260.63 616.77 L261.36 618.95 L261.79 621.13 L261.89 623.32 L261.70 625.50 L261.23 627.68 L260.51 629.87 L259.57 632.05 L258.47 634.23 L257.24 636.42 L255.95 638.60 L254.64 640.78 L253.35 642.97 L252.12 645.15 L250.99 647.33 L249.96 649.52 L249.06 651.70 L248.29 653.88 L247.64 656.07 L247.11 658.25 L246.68 660.43 L246.34 662.62 L246.08 664.80 L245.89 666.98 L245.74 669.17 L245.63 671.35 L245.60 673.53 L245.60 675.72 L245.60 677.90 L245.60 680.08 L245.60 682.27 L245.60 684.45 L245.54 686.63 L245.47 688.82 L245.40 691.00 L245.40 691.00 Z" fill="rgba(0,0,0,0.5)"/>
<path d="M309.70 669.00 L309.80 669.00 L309.85 670.50 L309.90 672.01 L309.98 673.51 L310.08 675.01 L310.21 676.52 L310.38 678.02 L310.60 679.52 L310.86 681.03 L311.19 682.53 L311.59 684.03 L312.06 685.54 L312.62 687.04 L313.28 688.54 L314.03 690.05 L314.87 691.55 L315.81 693.05 L316.83 694.56 L317.92 696.06 L319.08 697.56 L320.27 699.07 L321.48 700.57 L322.67 702.07 L323.81 703.58 L324.88 705.08 L325.84 706.58 L326.66 708.09 L327.31 709.59 L327.78 711.09 L328.04 712.60 L328.09 714.10 L327.95 715.60 L327.62 717.11 L327.12 718.61 L326.46 720.11 L325.66 721.62 L324.75 723.12 L323.74 724.62 L322.66 726.13 L321.55 727.63 L320.42 729.13 L319.30 730.64 L318.21 732.14 L317.17 733.64 L316.18 735.15 L315.27 736.65 L314.44 738.15 L313.69 739.66 L313.03 741.16 L312.45 742.66 L311.94 744.17 L311.51 745.67 L311.15 747.17 L310.85 748.68 L310.60 750.18 L310.40 751.68 L310.24 753.19 L310.11 754.69 L310.01 756.19 L309.93 757.70 L309.87 759.20 L309.70 759.20 Z" fill="rgba(0,0,0,0.5)"/>
<line x1="90.50" y1="708.40" x2="90.50" y2="741.60" stroke="#959595" stroke-width="1.6"/>
<circle cx="90.50" cy="724.80" r="5.10" fill="#999"/>
<line x1="154.50" y1="665.00" x2="154.50" y2="698.30" stroke="#959595" stroke-width="1.6"/>
<circle cx="154.50" cy="681.90" r="5.10" fill="#999"/>
<line x1="237.40" y1="553.00" x2="237.40" y2="611.00" stroke="#959595" stroke-width="1.6"/>
<circle cx="237.40" cy="581.50" r="5.10" fill="#999"/>
<line x1="301.70" y1="615.60" x2="301.70" y2="658.60" stroke="#959595" stroke-width="1.6"/>
<circle cx="301.70" cy="637.00" r="5.10" fill="#999"/>
<line x1="93.60" y1="786.10" x2="93.60" y2="819.70" stroke="#000" stroke-width="1.9"/>
<polygon points="93.60,794.75 100.60,806.90 86.60,806.90" fill="#000"/>
<line x1="158.00" y1="729.80" x2="158.00" y2="763.40" stroke="#000" stroke-width="1.9"/>
<polygon points="158.00,738.05 165.00,750.20 151.00,750.20" fill="#000"/>
<line x1="240.70" y1="592.20" x2="240.70" y2="656.10" stroke="#000" stroke-width="1.9"/>
<polygon points="240.70,616.65 247.70,628.80 233.70,628.80" fill="#000"/>
<line x1="304.70" y1="685.90" x2="304.70" y2="743.40" stroke="#000" stroke-width="1.9"/>
<polygon points="304.70,705.85 311.70,718.00 297.70,718.00" fill="#000"/>
</g>
<text id="note" y="954.6" font-size="14.6" fill="#000" stroke="#000" stroke-width="0.15"><tspan x="1.4" textLength="36.2" lengthAdjust="spacingAndGlyphs" font-style="italic">Note.</tspan> <tspan x="43.3" textLength="19.0" lengthAdjust="spacingAndGlyphs">CD</tspan> <tspan x="66.8" textLength="8.2" lengthAdjust="spacingAndGlyphs">=</tspan> <tspan x="79.3" textLength="127.5" lengthAdjust="spacingAndGlyphs">Change-detection;</tspan> <tspan x="211.4" textLength="19.5" lengthAdjust="spacingAndGlyphs">DE</tspan> <tspan x="235.1" textLength="8.5" lengthAdjust="spacingAndGlyphs">=</tspan> <tspan x="247.4" textLength="53.7" lengthAdjust="spacingAndGlyphs">Delayed</tspan> <tspan x="305.9" textLength="76.5" lengthAdjust="spacingAndGlyphs">estimation.</tspan> </text>
</svg>
</body>
</html>
